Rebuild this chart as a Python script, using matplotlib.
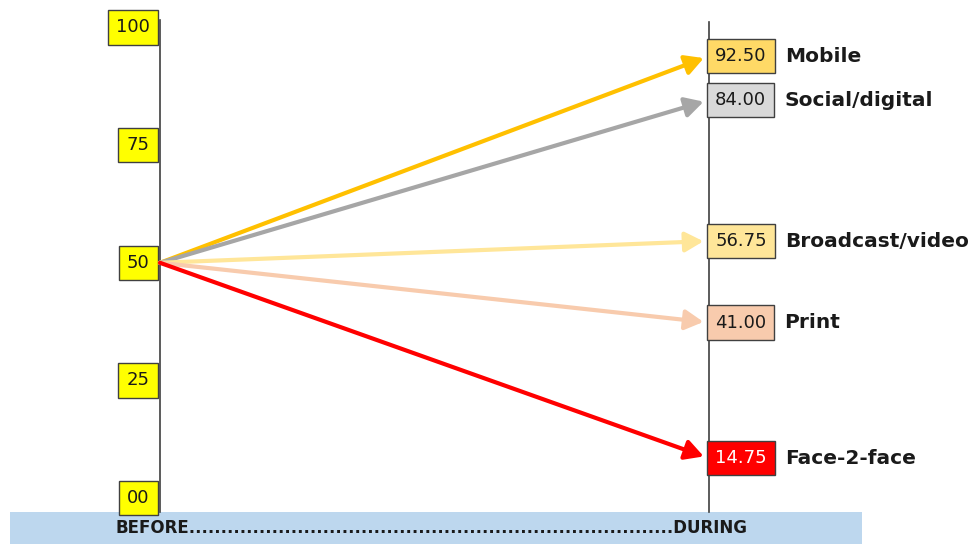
import matplotlib.pyplot as plt
from matplotlib.patches import Rectangle

plt.rcParams['font.family'] = ['DejaVu Sans']

# data
before_value = 50
channels = ['Mobile', 'Social/digital', 'Broadcast/video', 'Print', 'Face-2-face']
during = [92.50, 84.00, 56.75, 41.00, 14.75]
tick_values = [100, 75, 50, 25, 0]
tick_labels = ['100', '75', '50', '25', '00']

# colours
arrow_colors = ['#FFC000', '#A6A6A6', '#FFE699', '#F8CBAD', '#FF0000']
box_colors = ['#FFD966', '#D9D9D9', '#FFE699', '#F8CBAD', '#FF0000']
text_colors = ['#1a1a1a', '#1a1a1a', '#1a1a1a', '#1a1a1a', 'white']

fig = plt.figure(figsize=(9.77, 5.44), dpi=100)
ax = fig.add_axes([0, 0, 1, 1])
ax.set_xlim(-0.2914, 1.4882)
ax.set_ylim(-9.73, 105.82)
ax.axis('off')

# the "during" side was drawn on its own scale in the original
axr = ax.twinx()
axr.set_ylim(-1.82, 103.35)
axr.axis('off')

# bottom band
ax.add_patch(Rectangle((0.0102, 0), 0.872, 0.0588, transform=ax.transAxes,
                       facecolor='#BDD7EE', edgecolor='none', zorder=0))
ax.text(0.4417, 0.0294, 'BEFORE' + '.' * 76 + 'DURING', transform=ax.transAxes,
        ha='center', va='center', fontsize=12, fontweight='bold', color='#1a1a1a')

# vertical lines
ax.axvline(0, ymin=0.0588, ymax=0.963, color='#404040', lw=1.2)
ax.axvline(1, ymin=0.0588, ymax=0.96, color='#404040', lw=1.2)

# left tick boxes
for v, lab in zip(tick_values, tick_labels):
    ax.annotate(lab, xy=(0, v), xytext=(-7.5, 0), textcoords='offset points',
                ha='right', va='center', fontsize=13, color='#1a1a1a',
                bbox=dict(boxstyle='square,pad=0.45', fc='#FFFF00', ec='#404040', lw=1))

# arrows + value boxes + names
for name, v, ac, fc, tc in zip(channels, during, arrow_colors, box_colors, text_colors):
    ax.annotate('', xy=(1, v), xycoords=axr.transData,
                xytext=(0, before_value), textcoords=ax.transData,
                arrowprops=dict(arrowstyle='-|>,head_length=0.55,head_width=0.3',
                                color=ac, lw=3, mutation_scale=20,
                                shrinkA=0, shrinkB=4))
    t = axr.annotate(f'{v:.2f}', xy=(1, v), xytext=(4.5, 0), textcoords='offset points',
                     ha='left', va='center', fontsize=13, color=tc, zorder=5,
                     bbox=dict(boxstyle='square,pad=0.45', fc=fc, ec='#404040', lw=1))
    axr.annotate(name, xy=(1, 0.5), xycoords=t, xytext=(13, 0),
                 textcoords='offset points', ha='left', va='center',
                 fontsize=14.5, fontweight='bold', color='#1a1a1a')

fig.savefig('out.png', dpi=100)
